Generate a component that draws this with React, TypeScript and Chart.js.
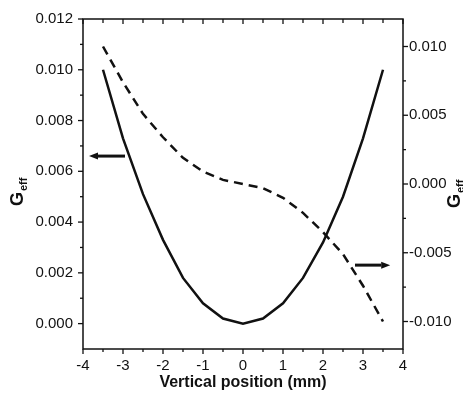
import React, { useEffect, useRef } from 'react';
import { Chart, registerables } from 'chart.js';

Chart.register(...registerables);

// Vertical position (mm)
const positions = [-3.5, -3, -2.5, -2, -1.5, -1, -0.5, 0, 0.5, 1, 1.5, 2, 2.5, 3, 3.5];
// Left axis G_eff (solid)
const gEffSolid = [0.0100, 0.0073, 0.0051, 0.0033, 0.0018, 0.0008, 0.0002, 0.0, 0.0002, 0.0008, 0.0018, 0.0032, 0.0050, 0.0073, 0.0100];
// Right axis G_eff (dashed)
const gEffDashed = [0.0100, 0.0074, 0.0051, 0.0034, 0.0019, 0.0009, 0.0003, 0.0, -0.0003, -0.0010, -0.0021, -0.0035, -0.0051, -0.0074, -0.0100];

const xTickValues = [-4, -3, -2, -1, 0, 1, 2, 3, 4];
const yLeftTickValues = [0, 0.002, 0.004, 0.006, 0.008, 0.010, 0.012];
const yRightTickValues = [-0.010, -0.005, 0.0, 0.005, 0.010];
const yLeftMinorValues = [0.001, 0.003, 0.005, 0.007, 0.009, 0.011];
const yRightMinorValues = [-0.0075, -0.0025, 0.0025, 0.0075];
const xMinorValues = [-3.5, -2.5, -1.5, -0.5, 0.5, 1.5, 2.5, 3.5];

// Arrow annotations in data coordinates
const leftArrow = { fromX: -2.95, toX: -3.85, y: 0.0066 };
const rightArrow = { fromX: 2.8, toX: 3.68, y: -0.0059 };

const FONT = "'Liberation Sans', Arial, sans-serif";

const framePlugin = {
  id: 'framePlugin',
  afterDraw(chart: any) {
    const { ctx, chartArea, scales } = chart;
    const { left, right, top, bottom } = chartArea;
    const x = scales.x, y = scales.y, y2 = scales.y2;
    ctx.save();
    ctx.strokeStyle = '#111';
    ctx.lineWidth = 1.5;
    ctx.strokeRect(left, top, right - left, bottom - top);
    ctx.lineWidth = 1.3;
    const line = (x1: number, y1: number, x2: number, y2_: number) => {
      ctx.beginPath();
      ctx.moveTo(x1, y1);
      ctx.lineTo(x2, y2_);
      ctx.stroke();
    };
    xTickValues.forEach((v) => {
      const p = x.getPixelForValue(v);
      line(p, bottom, p, bottom + 5);
      line(p, top, p, top + 5);
    });
    xMinorValues.forEach((v) => {
      const p = x.getPixelForValue(v);
      line(p, bottom, p, bottom + 3);
      line(p, top, p, top + 4);
    });
    yLeftTickValues.forEach((v) => {
      const p = y.getPixelForValue(v);
      line(left - 5, p, left, p);
    });
    yLeftMinorValues.forEach((v) => {
      const p = y.getPixelForValue(v);
      line(left - 3, p, left, p);
    });
    yRightTickValues.forEach((v) => {
      const p = y2.getPixelForValue(v);
      line(right, p, right + 5, p);
    });
    yRightMinorValues.forEach((v) => {
      const p = y2.getPixelForValue(v);
      line(right, p, right + 3, p);
    });

    // arrows
    const drawArrow = (x1: number, x2: number, yy: number) => {
      const dir = Math.sign(x2 - x1);
      const head = 9;
      ctx.lineWidth = 3;
      line(x1, yy, x2 - dir * head, yy);
      ctx.fillStyle = '#111';
      ctx.beginPath();
      ctx.moveTo(x2, yy);
      ctx.lineTo(x2 - dir * head, yy - 3.5);
      ctx.lineTo(x2 - dir * head, yy + 3.5);
      ctx.closePath();
      ctx.fill();
    };
    drawArrow(x.getPixelForValue(leftArrow.fromX), x.getPixelForValue(leftArrow.toX), y.getPixelForValue(leftArrow.y));
    drawArrow(x.getPixelForValue(rightArrow.fromX), x.getPixelForValue(rightArrow.toX), y2.getPixelForValue(rightArrow.y));

    // rotated axis titles with subscript
    const drawTitle = (bx: number, by: number) => {
      ctx.save();
      ctx.translate(bx, by);
      ctx.rotate(-Math.PI / 2);
      ctx.fillStyle = '#111';
      ctx.textAlign = 'left';
      ctx.textBaseline = 'alphabetic';
      ctx.font = `bold 18px ${FONT}`;
      ctx.fillText('G', 0, 0);
      const w = ctx.measureText('G').width;
      ctx.font = `bold 11px ${FONT}`;
      ctx.fillText('eff', w + 1, 4);
      ctx.restore();
    };
    drawTitle(23, 206);
    drawTitle(460, 208);
    ctx.restore();
  },
};

export default function App() {
  const canvasRef = useRef<HTMLCanvasElement | null>(null);

  useEffect(() => {
    const canvas = canvasRef.current;
    if (!canvas) return;
    const tickFont = { family: FONT, size: 15 };
    const chart = new Chart(canvas, {
      type: 'line',
      data: {
        datasets: [
          {
            data: positions.map((p, i) => ({ x: p, y: gEffSolid[i] })),
            yAxisID: 'y',
            borderColor: '#111',
            borderWidth: 2.5,
            pointRadius: 0,
            tension: 0,
            fill: false,
          },
          {
            data: positions.map((p, i) => ({ x: p, y: gEffDashed[i] })),
            yAxisID: 'y2',
            borderColor: '#111',
            borderWidth: 2.5,
            borderDash: [9, 6],
            pointRadius: 0,
            tension: 0,
            fill: false,
          },
        ],
      },
      options: {
        responsive: false,
        animation: false,
        events: [],
        layout: { padding: { top: 13, left: 0, right: 0, bottom: 0 } },
        plugins: { legend: { display: false }, tooltip: { enabled: false } },
        scales: {
          x: {
            type: 'linear',
            position: 'bottom',
            min: -4,
            max: 4,
            grid: { display: false, drawTicks: false },
            border: { display: false },
            afterBuildTicks: (s: any) => { s.ticks = xTickValues.map((v) => ({ value: v })); },
            afterFit: (s: any) => { s.height = 47; },
            ticks: { font: tickFont, color: '#111', padding: 8, maxRotation: 0, callback: (v: any) => String(v) },
            title: {
              display: true,
              text: 'Vertical position (mm)',
              font: { family: FONT, size: 16, weight: 'bold' },
              color: '#111',
              padding: { top: 0, bottom: 4 },
            },
          },
          y: {
            type: 'linear',
            position: 'left',
            min: -0.001,
            max: 0.012,
            grid: { display: false, drawTicks: false },
            border: { display: false },
            afterBuildTicks: (s: any) => { s.ticks = yLeftTickValues.map((v) => ({ value: v })); },
            afterFit: (s: any) => { s.width = 83; },
            ticks: { font: tickFont, color: '#111', padding: 10, callback: (v: any) => Number(v).toFixed(3) },
          },
          y2: {
            type: 'linear',
            position: 'right',
            min: -0.012,
            max: 0.012,
            grid: { display: false, drawTicks: false },
            border: { display: false },
            afterBuildTicks: (s: any) => { s.ticks = yRightTickValues.map((v) => ({ value: v })); },
            afterFit: (s: any) => { s.width = 60; },
            ticks: { font: tickFont, color: '#111', padding: 6, callback: (v: any) => Number(v).toFixed(3) },
          },
        },
      } as any,
      plugins: [framePlugin],
    });
    return () => chart.destroy();
  }, []);

  return (
    <div style={{ position: 'fixed', left: 0, top: 0, width: 463, height: 396, background: '#fff' }}>
      <canvas ref={canvasRef} width={463} height={396} style={{ display: 'block' }} />
    </div>
  );
}
